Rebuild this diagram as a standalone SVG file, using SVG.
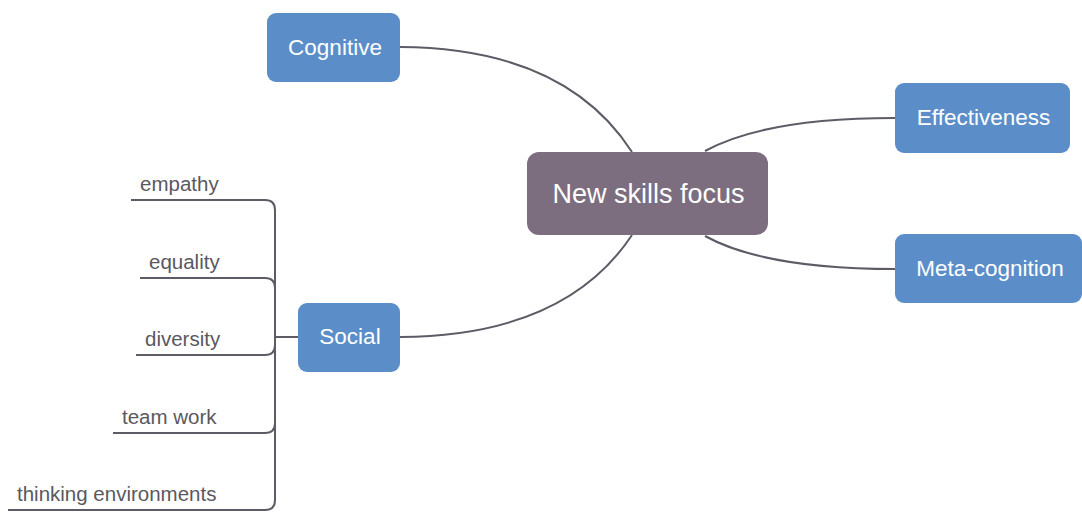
<svg xmlns="http://www.w3.org/2000/svg" width="1082" height="512" viewBox="0 0 1082 512">
<style>
.blue{fill:#5b8ec9}
.center{fill:#7c6e7f}
.nt{font-family:"Liberation Sans",Arial,sans-serif;font-size:22.5px;fill:#ffffff;text-anchor:middle}
.ct{font-family:"Liberation Sans",Arial,sans-serif;font-size:27px;fill:#ffffff;text-anchor:middle}
.lt{font-family:"Liberation Sans",Arial,sans-serif;font-size:20.5px;fill:#5a5860}
.ln{fill:none;stroke:#5f5b66;stroke-width:2}
</style>
<rect width="1082" height="512" fill="#ffffff"/>
<g id="connectors">
<path class="ln" d="M400,47 Q565,48 632,152"/>
<path class="ln" d="M705,151 Q765,118 895,118"/>
<path class="ln" d="M705,236 Q765,269 895,269"/>
<path class="ln" d="M400,337 Q565,336 632,235"/>
<path class="ln" d="M275,337 H298"/>
<path class="ln" d="M131,200 H265 Q275,200 275,210 V337"/>
<path class="ln" d="M140,278 H265 Q275,278 275,288 V337"/>
<path class="ln" d="M136,355 H265 Q275,355 275,345 V337"/>
<path class="ln" d="M113,433 H265 Q275,433 275,423 V337"/>
<path class="ln" d="M8,510 H265 Q275,510 275,500 V337"/>
</g>
<g id="node-center">
<rect class="center" x="527" y="152" width="241" height="83" rx="12"/>
<text class="ct" x="648.5" y="203">New skills focus</text>
</g>
<g id="node-cognitive">
<rect class="blue" x="267" y="13" width="133" height="69" rx="9"/>
<text class="nt" x="335" y="55">Cognitive</text>
</g>
<g id="node-effectiveness">
<rect class="blue" x="895" y="83" width="175" height="70" rx="9"/>
<text class="nt" x="983.5" y="125">Effectiveness</text>
</g>
<g id="node-metacognition">
<rect class="blue" x="895" y="234" width="187" height="69" rx="9"/>
<text class="nt" x="990" y="276">Meta-cognition</text>
</g>
<g id="node-social">
<rect class="blue" x="298" y="303" width="102" height="69" rx="9"/>
<text class="nt" x="350" y="344">Social</text>
</g>
<g id="leaf-empathy"><text class="lt" x="140" y="191">empathy</text></g>
<g id="leaf-equality"><text class="lt" x="149" y="269">equality</text></g>
<g id="leaf-diversity"><text class="lt" x="145" y="346">diversity</text></g>
<g id="leaf-teamwork"><text class="lt" x="122" y="424">team work</text></g>
<g id="leaf-thinking"><text class="lt" x="17" y="501">thinking environments</text></g>
</svg>
